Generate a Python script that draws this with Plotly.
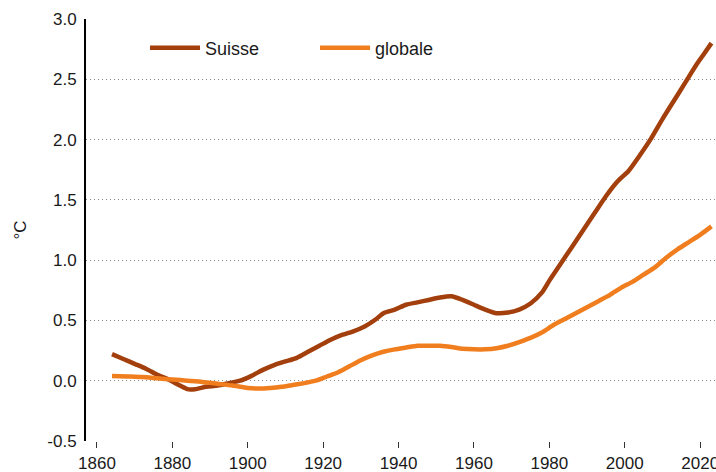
import plotly.graph_objects as go

years_suisse = [1864, 1867, 1870, 1873, 1876, 1879, 1882, 1884, 1886, 1889, 1892, 1895, 1898,
                1901, 1904, 1907, 1910, 1913, 1916, 1919, 1922, 1925, 1928, 1931, 1934, 1936,
                1939, 1942, 1945, 1948, 1951, 1954, 1957, 1960, 1963, 1966, 1969, 1972, 1975,
                1978, 1980, 1983, 1986, 1989, 1992, 1995, 1998, 2001, 2004, 2007, 2010, 2013,
                2016, 2019, 2021, 2023]
suisse = [0.22, 0.18, 0.14, 0.10, 0.05, 0.01, -0.04, -0.07, -0.07, -0.05, -0.04, -0.02, 0.00,
          0.04, 0.09, 0.13, 0.16, 0.19, 0.24, 0.29, 0.34, 0.38, 0.41, 0.45, 0.51, 0.56,
          0.59, 0.63, 0.65, 0.67, 0.69, 0.70, 0.67, 0.63, 0.59, 0.56, 0.565, 0.59, 0.64,
          0.73, 0.83, 0.97, 1.11, 1.25, 1.39, 1.53, 1.65, 1.74, 1.87, 2.01, 2.17, 2.32,
          2.47, 2.62, 2.71, 2.80]

years_globale = [1864, 1868, 1872, 1876, 1880, 1884, 1888, 1892, 1896, 1900, 1903, 1906, 1909,
                 1912, 1915, 1918, 1921, 1924, 1927, 1930, 1933, 1936, 1939, 1942, 1945, 1948,
                 1951, 1954, 1957, 1960, 1963, 1966, 1969, 1972, 1975, 1978, 1981, 1984, 1987,
                 1990, 1993, 1996, 1999, 2002, 2005, 2008, 2011, 2014, 2017, 2020, 2023]
globale = [0.04, 0.035, 0.03, 0.02, 0.01, 0.00, -0.01, -0.025, -0.04, -0.06, -0.065, -0.06, -0.05,
           -0.035, -0.02, 0.00, 0.035, 0.07, 0.12, 0.17, 0.21, 0.24, 0.26, 0.275, 0.29, 0.29,
           0.29, 0.28, 0.265, 0.26, 0.26, 0.27, 0.29, 0.32, 0.355, 0.40, 0.46, 0.51, 0.56,
           0.61, 0.66, 0.71, 0.77, 0.82, 0.88, 0.94, 1.02, 1.09, 1.15, 1.21, 1.28]

x_ticks = [1860, 1880, 1900, 1920, 1940, 1960, 1980, 2000, 2020]
y_ticks = [-0.5, 0.0, 0.5, 1.0, 1.5, 2.0, 2.5, 3.0]
y_labels = ["-0.5", "0.0", "0.5", "1.0", "1.5", "2.0", "2.5", "3.0"]

FONT = "Liberation Sans, Arial, Helvetica, sans-serif"

fig = go.Figure()
fig.add_trace(go.Scatter(x=years_suisse, y=suisse, mode="lines", name="Suisse",
                         line=dict(color="#A23F0C", width=4.5, shape="spline", smoothing=0.6)))
fig.add_trace(go.Scatter(x=years_globale, y=globale, mode="lines", name="globale",
                         line=dict(color="#F07E1E", width=4.5, shape="spline", smoothing=0.6)))

fig.update_layout(
    width=716, height=472,
    template="none",
    paper_bgcolor="white", plot_bgcolor="white",
    margin=dict(l=86, r=0, t=19, b=31, autoexpand=False),
    font=dict(family=FONT, size=17, color="#1a1a1a"),
    showlegend=True,
    legend=dict(orientation="h", x=0.0937, y=0.931, xanchor="left", yanchor="middle",
                font=dict(size=18, color="#1a1a1a"), itemwidth=50, entrywidth=105,
                bgcolor="rgba(0,0,0,0)"),
    xaxis=dict(range=[1857.1, 2024.2], tickvals=x_ticks, ticks="outside", ticklen=6,
               tickwidth=1, tickcolor="#333", showline=False, showgrid=False,
               zeroline=False, automargin=False, tickfont=dict(size=17),
               ticklabelstandoff=1, ticklabeloverflow="allow"),
    yaxis=dict(range=[-0.5, 3.0], tickvals=y_ticks, ticktext=y_labels, ticks="",
               showline=True, linecolor="black", linewidth=2, showgrid=True,
               gridcolor="#8c8c8c", gridwidth=1, griddash="1px,3px", zeroline=False,
               automargin=False, ticklabelstandoff=4,
               title=dict(text="°C", standoff=16, font=dict(size=17))),
)

fig.write_html("out.html", config={"displayModeBar": False},
               post_script="document.body.style.margin='0';document.body.style.overflow='hidden';")
